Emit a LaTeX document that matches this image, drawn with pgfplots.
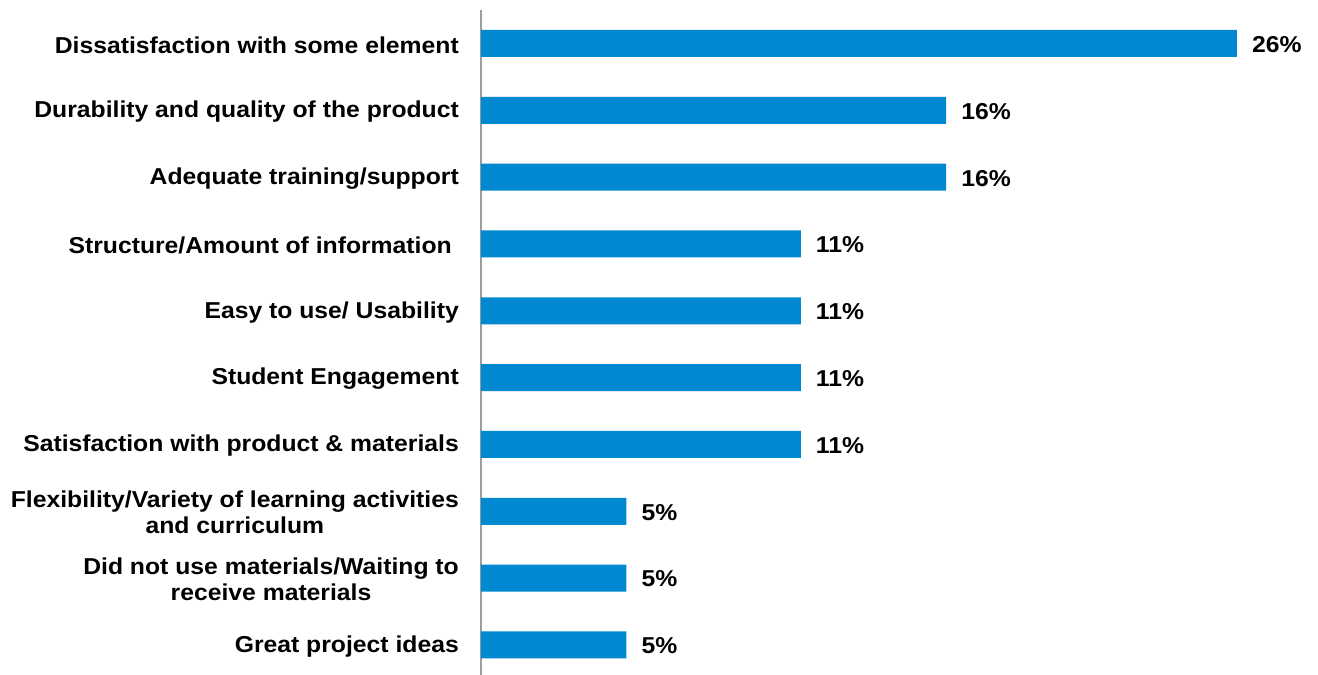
\documentclass[border=0pt]{standalone}
\usepackage{fontspec}
\setmainfont{Liberation Sans}[FakeStretch=1.075]
\usepackage{pgfplots}
\pgfplotsset{compat=1.18}
\definecolor{barblue}{RGB}{0,137,208}
\begin{document}
\begin{tikzpicture}[x=1pt,y=1pt]
\useasboundingbox (0,0) rectangle (1318,675);
\begin{axis}[
  at={(481pt,0pt)}, anchor=south west,
  scale only axis, width=814pt, height=665pt,
  xmin=0, xmax=28, ymin=0.5, ymax=10.45, y dir=reverse,
  xbar, bar width=27pt,
  axis x line=none, axis y line*=left,
  y axis line style={draw=black!38, line width=1.2pt},
  ytick={1,...,10}, major tick length=0,
  /pgf/number format/assume math mode=true,
  yticklabels={Dissatisfaction with some element,
    Durability and quality of the product,
    Adequate training/support,
    {Structure/Amount of information\hspace{7pt}},
    Easy to use/ Usability,
    Student Engagement,
    Satisfaction with product \& materials,
    {Flexibility/Variety of learning activities\\and curriculum},
    {Did not use materials/Waiting to\\receive materials},
    Great project ideas},
  yticklabel style={font=\bfseries\fontsize{23}{26}\selectfont, align=center, anchor=east, inner sep=0pt, xshift=-22pt, yshift=-1.5pt},
  nodes near coords={\pgfmathprintnumber[assume math mode=true]{\pgfplotspointmeta}\%},
  nodes near coords style={font=\bfseries\fontsize{23}{26}\selectfont, anchor=west, inner sep=0pt, xshift=15pt, yshift=-1pt},
  point meta=x,
]
\addplot[fill=barblue, draw=none] coordinates {(26,1) (16,2) (16,3) (11,4) (11,5) (11,6) (11,7) (5,8) (5,9) (5,10)};
\end{axis}
\end{tikzpicture}
\end{document}
